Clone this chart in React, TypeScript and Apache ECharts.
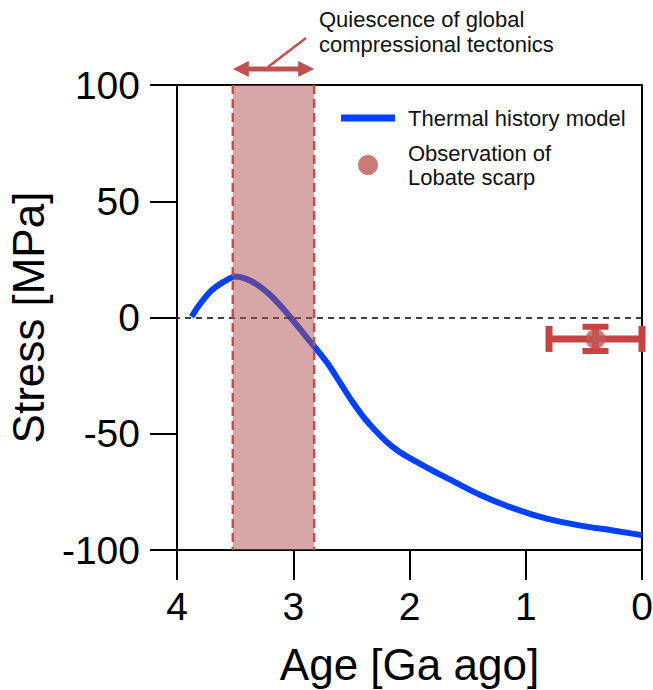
import React, { useEffect, useRef } from "react";
import * as echarts from "echarts";

// Thermal history model curve: age [Ga ago], stress [MPa]
const modelAge = [3.874, 3.83, 3.716, 3.6, 3.5, 3.4, 3.3, 3.2, 3.1, 3.0, 2.9, 2.82, 2.7, 2.6, 2.5, 2.4, 2.3, 2.2, 2.1, 2.0, 1.9, 1.8, 1.68, 1.39, 1.11, 0.82, 0.53, 0.25, 0.0];
const modelStress = [0.3, 3.9, 11, 15.3, 17.6, 16.5, 13.8, 9.8, 4.5, -1.4, -7.6, -12.4, -20, -27.8, -35.6, -42.5, -48.3, -53.3, -57.3, -60.4, -63.2, -65.9, -69.0, -76.3, -82, -86.5, -89.5, -91.6, -93.6];

// Lobate scarp observation: [age, stress, ageLow, ageHigh, stressHigh, stressLow]
const observation = [0.4, -9.2, 0.8, 0.0, -4.0, -14.4];

// Quiescence band [start age, end age]
const quiescence = [3.52, 2.82];

const xTicks = [0, 1, 2, 3, 4];
const yTicks = [-100, -50, 0, 50, 100];

const FONT = "Liberation Sans, Arial, Helvetica, sans-serif";
const RED = "#c0504d";

export default function App() {
  const ref = useRef<HTMLDivElement>(null);
  useEffect(() => {
    if (!ref.current) return;
    const chart = echarts.init(ref.current, undefined, { renderer: "svg" });
    const modelData = modelAge.map((a, i) => [a, modelStress[i]]);
    const option: any = {
      animation: false,
      backgroundColor: "#fff",
      textStyle: { fontFamily: FONT },
      grid: {
        left: 177, right: 11, top: 85, bottom: 140,
        outerBoundsMode: "none",
        containLabel: false,
        show: true, borderColor: "#000", borderWidth: 2, backgroundColor: "transparent",
      },
      legend: {
        data: [
          { name: "Thermal history model", icon: "path://M0 0H54V7H0Z" },
          { name: "Observation of\nLobate scarp", icon: "circle" },
        ],
        orient: "vertical",
        left: 341,
        top: 106,
        padding: 0,
        itemWidth: 54,
        itemHeight: 20,
        itemGap: 11,
        selectedMode: false,
        textStyle: { fontFamily: FONT, fontSize: 22, lineHeight: 24, color: "#111", padding: [0, 0, 0, 8] },
      },
      xAxis: {
        type: "value",
        min: xTicks[0],
        max: xTicks[xTicks.length - 1],
        interval: 1,
        inverse: true,
        name: "Age [Ga ago]",
        nameLocation: "middle",
        nameGap: 92,
        nameTextStyle: { fontFamily: FONT, fontSize: 44, color: "#000" },
        axisLine: { onZero: false, lineStyle: { color: "#000", width: 2 } },
        axisTick: { length: 30, lineStyle: { color: "#000", width: 2 } },
        axisLabel: { fontFamily: FONT, fontSize: 39, color: "#000", margin: 37 },
        splitLine: { show: false },
      },
      yAxis: {
        type: "value",
        min: yTicks[0],
        max: yTicks[yTicks.length - 1],
        interval: 50,
        name: "Stress [MPa]",
        nameLocation: "middle",
        nameGap: 127,
        nameTextStyle: { fontFamily: FONT, fontSize: 44, color: "#000" },
        axisLine: { onZero: false, lineStyle: { color: "#000", width: 2 } },
        axisTick: { length: 27, lineStyle: { color: "#000", width: 2 } },
        axisLabel: { fontFamily: FONT, fontSize: 39, color: "#000", margin: 37 },
        splitLine: { show: false },
      },
      series: [
        {
          name: "Thermal history model",
          type: "line",
          data: modelData,
          smooth: 0.25,
          showSymbol: false,
          symbol: "none",
          color: "#0040ff",
          lineStyle: { color: "#0040ff", width: 6 },
          z: 2,
          markLine: {
            silent: true,
            symbol: "none",
            label: { show: false },
            lineStyle: { color: "#000", type: [6, 5], width: 1.5 },
            data: [{ yAxis: 0 }],
          },
        },
        {
          name: "errorbar",
          type: "custom",
          clip: false,
          z: 3,
          encode: { x: [0, 2, 3], y: [1, 4, 5] },
          data: [observation],
          renderItem: (params: any, api: any) => {
            const c = api.coord([api.value(0), api.value(1)]);
            const xl = api.coord([api.value(2), api.value(1)])[0];
            const xr = api.coord([api.value(3), api.value(1)])[0];
            const yt = api.coord([api.value(0), api.value(4)])[1];
            const yb = api.coord([api.value(0), api.value(5)])[1];
            const st = { stroke: "#c94242", lineWidth: 7 };
            return {
              type: "group",
              children: [
                { type: "line", shape: { x1: xl, y1: c[1], x2: xr, y2: c[1] }, style: st },
                { type: "line", shape: { x1: xl, y1: c[1] - 13, x2: xl, y2: c[1] + 13 }, style: st },
                { type: "line", shape: { x1: xr, y1: c[1] - 13, x2: xr, y2: c[1] + 13 }, style: st },
                { type: "line", shape: { x1: c[0], y1: yt, x2: c[0], y2: yb }, style: st },
                { type: "line", shape: { x1: c[0] - 13, y1: yt, x2: c[0] + 13, y2: yt }, style: { stroke: "#c94242", lineWidth: 6 } },
                { type: "line", shape: { x1: c[0] - 13, y1: yb, x2: c[0] + 13, y2: yb }, style: { stroke: "#c94242", lineWidth: 6 } },
              ],
            };
          },
        },
        {
          name: "Observation of\nLobate scarp",
          type: "scatter",
          data: [[observation[0], observation[1]]],
          symbol: "circle",
          symbolSize: 20,
          color: "#be5a55",
          itemStyle: { color: "#be5a55" },
          z: 4,
        },
        {
          name: "band",
          type: "custom",
          clip: false,
          z: 5,
          encode: { x: [0, 1] },
          data: [quiescence],
          renderItem: (params: any, api: any) => {
            const x1 = api.coord([api.value(0), 0])[0];
            const x2 = api.coord([api.value(1), 0])[0];
            const yTop = api.coord([0, 100])[1];
            const yBot = api.coord([0, -100])[1];
            const ay = yTop - 16;
            const dash = { stroke: RED, lineWidth: 2.5, lineDash: [9, 5] };
            return {
              type: "group",
              children: [
                { type: "rect", shape: { x: x1, y: yTop, width: x2 - x1, height: yBot - yTop }, style: { fill: "rgba(173,79,77,0.5)" } },
                { type: "line", shape: { x1: x1, y1: yTop, x2: x1, y2: yBot }, style: dash },
                { type: "line", shape: { x1: x2, y1: yTop, x2: x2, y2: yBot }, style: dash },
                { type: "line", shape: { x1: x1 + 10, y1: ay, x2: x2 - 10, y2: ay }, style: { stroke: RED, lineWidth: 5 } },
                { type: "polygon", shape: { points: [[x1, ay], [x1 + 16, ay - 8], [x1 + 16, ay + 8]] }, style: { fill: RED } },
                { type: "polygon", shape: { points: [[x2, ay], [x2 - 16, ay - 8], [x2 - 16, ay + 8]] }, style: { fill: RED } },
              ],
            };
          },
        },
      ],
      graphic: [
        { type: "line", shape: { x1: 306, y1: 38, x2: 268, y2: 67 }, style: { stroke: RED, lineWidth: 2.5 } },
        {
          type: "text",
          x: 319,
          y: 32,
          style: {
            text: "Quiescence of global\ncompressional tectonics",
            fontFamily: FONT,
            fontSize: 22,
            lineHeight: 25,
            fill: "#111",
            verticalAlign: "middle",
            align: "left",
          },
        },
      ],
    };
    chart.setOption(option);
    return () => chart.dispose();
  }, []);
  return <div ref={ref} style={{ position: "fixed", left: 0, top: 0, width: 653, height: 690 }} />;
}
